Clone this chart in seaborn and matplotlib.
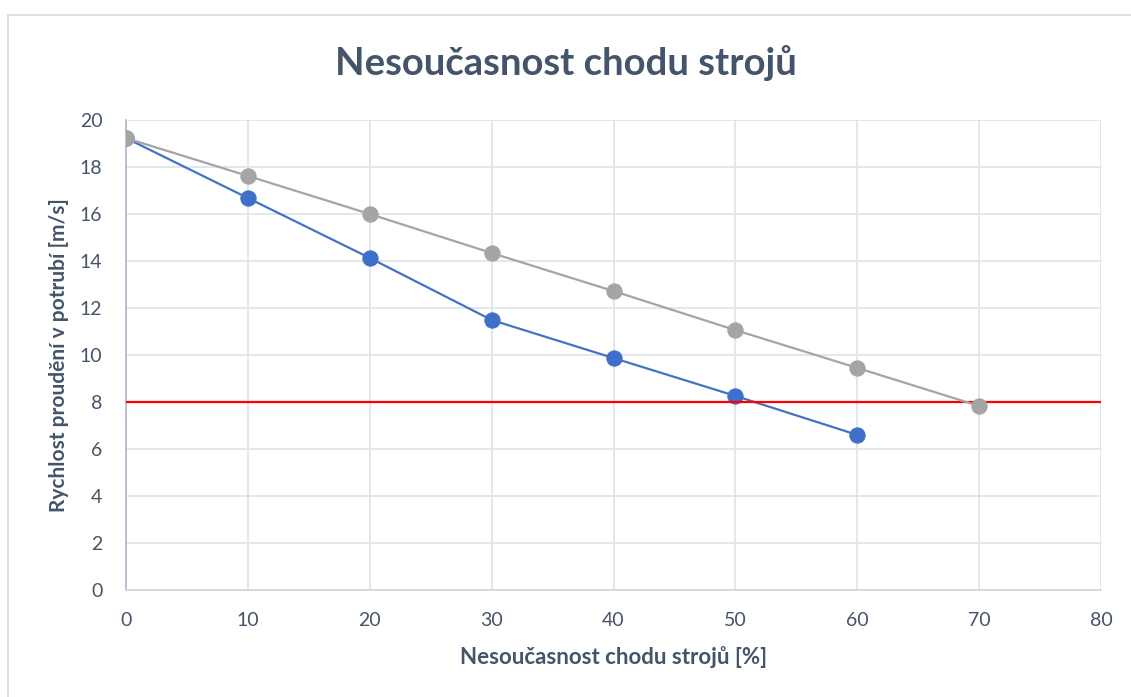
import matplotlib
matplotlib.use("Agg")
import matplotlib.pyplot as plt
from matplotlib.lines import Line2D
import pandas as pd
import seaborn as sns

# Simultaneity of machine operation [%] and resulting pipe velocity [m/s]
nesoucasnost_a = [0, 10, 20, 30, 40, 50, 60]
rychlost_a = [19.23, 16.68, 14.13, 11.49, 9.87, 8.26, 6.60]

nesoucasnost_b = [0, 10, 20, 30, 40, 50, 60, 70]
rychlost_b = [19.23, 17.62, 16.00, 14.34, 12.72, 11.06, 9.45, 7.83]

limit_rychlosti = 8.0

x_ticks = [0, 10, 20, 30, 40, 50, 60, 70, 80]
y_ticks = [0, 2, 4, 6, 8, 10, 12, 14, 16, 18, 20]

title = "Nesoučasnost chodu strojů"
x_label = "Nesoučasnost chodu strojů [%]"
y_label = "Rychlost proudění v potrubí [m/s]"

sns.set_style("white")
plt.rcParams["font.family"] = ["Lato", "DejaVu Sans"]

TEXT = "#44546a"
GRID = "#e1e4ea"
SPINE = "#b4bdcb"
BLUE = "#4472c4"
GRAY = "#a5a5a5"
RED = "#ff0000"

df_a = pd.DataFrame({"x": nesoucasnost_a, "y": rychlost_a})
df_b = pd.DataFrame({"x": nesoucasnost_b, "y": rychlost_b})

fig = plt.figure(figsize=(11.31, 6.97), dpi=100)
ax = fig.add_axes([126 / 1131, 1 - 590 / 697, (1101 - 126) / 1131, (590 - 120) / 697])

# chart-area frame
fig.add_artist(Line2D([8 / 1131, 1.0], [1 - 15 / 697] * 2, transform=fig.transFigure,
                      color="#dde1e7", lw=1.5))
fig.add_artist(Line2D([8 / 1131] * 2, [0.0, 1 - 15 / 697], transform=fig.transFigure,
                      color="#dde1e7", lw=1.5))

sns.lineplot(data=df_a, x="x", y="y", ax=ax, color=BLUE, lw=1.6, marker="o",
             markersize=11, markeredgecolor=BLUE, markerfacecolor="#3f6fcb",
             zorder=3, legend=False)
ax.axhline(limit_rychlosti, color=RED, lw=1.6, zorder=4)
sns.lineplot(data=df_b, x="x", y="y", ax=ax, color=GRAY, lw=1.6, marker="o",
             markersize=11, markeredgecolor=GRAY, markerfacecolor=GRAY,
             zorder=5, legend=False)

ax.set_xlim(x_ticks[0], x_ticks[-1])
ax.set_ylim(y_ticks[0], y_ticks[-1])
ax.set_xticks(x_ticks)
ax.set_yticks(y_ticks)
ax.grid(True, color=GRID, lw=1.3, zorder=0)
ax.set_axisbelow(True)

for side in ("top", "right"):
    ax.spines[side].set_visible(False)
ax.spines["left"].set_color(SPINE)
ax.spines["left"].set_linewidth(1.3)
ax.spines["bottom"].set_color("#d3d8e0")
ax.spines["bottom"].set_linewidth(1.3)

ax.tick_params(axis="both", length=0, labelsize=14, labelcolor=TEXT)
ax.tick_params(axis="x", pad=16)
ax.tick_params(axis="y", pad=17)

ax.set_xlabel(x_label, fontsize=16, fontweight="bold", color=TEXT, labelpad=12)
ax.set_ylabel(y_label, fontsize=15, fontweight="bold", color=TEXT, labelpad=8)

fig.text(0.5, 1 - 63 / 697, title, ha="center", va="center", fontsize=27.5,
         fontweight="bold", color=TEXT)

fig.savefig("out.png", dpi=100, facecolor="white")
